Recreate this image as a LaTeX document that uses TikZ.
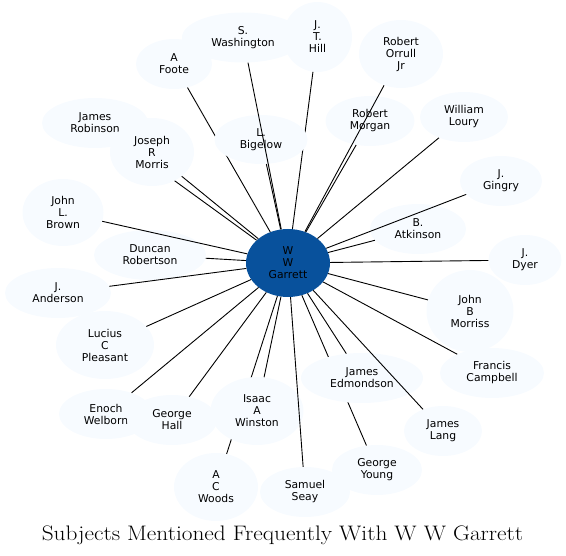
\documentclass[tikz,border=0pt]{standalone}
\usepackage{fontspec}
\usepackage{tikz}
\usetikzlibrary{shapes.geometric}
\newfontfamily\nodefont{DejaVu Sans}
\definecolor{hubfill}{HTML}{08519C}
\definecolor{personfill}{HTML}{F7FBFF}

\begin{document}
\begin{tikzpicture}[
  x=1pt, y=-1pt,
  person/.style = {ellipse, draw=none, fill=personfill, inner sep=0pt, align=center, font=\nodefont\fontsize{10.8}{12}\selectfont},
  hub/.style    = {person, fill=hubfill},
  link/.style   = {line width=0.9pt, color=black},
  caption/.style = {font=\fontsize{21}{25}\selectfont, anchor=base},
]
\useasboundingbox (0,0) rectangle (566,556);
% centre
\node[hub, minimum width=84, minimum height=68] (garrett) at (288,263) {W\\W\\Garrett};
% neighbours, each followed by its edge
\node[person, minimum width=76, minimum height=50] (foote) at (174,64) {A\\Foote};
\draw[link] (garrett) -- (foote);
\node[person, minimum width=69, minimum height=70] (hill) at (317.5,37) {J.\\T.\\Hill};
\draw[link] (garrett) -- (hill);
\node[person, minimum width=93, minimum height=49] (bigelow) at (261,139.5) {L.\\Bigelow};
\draw[link] (garrett) -- (bigelow);
\node[person, minimum width=122, minimum height=50] (washington) at (243,37.5) {S.\\Washington};
\draw[link] (garrett) -- (washington);
\node[person, minimum width=89, minimum height=50] (morgan) at (370,121) {Robert\\Morgan};
\draw[link] (garrett) -- (morgan);
\node[person, minimum width=84, minimum height=68] (orrull) at (401,54) {Robert\\Orrull\\Jr};
\draw[link] (garrett) -- (orrull);
\node[person, minimum width=106, minimum height=50] (robinson) at (95,123) {James\\Robinson};
\draw[link] (garrett) -- (robinson);
\node[person, minimum width=84, minimum height=68] (morris) at (152,152) {Joseph\\R\\Morris};
\draw[link] (garrett) -- (morris);
\node[person, minimum width=90, minimum height=50] (young) at (377,470) {George\\Young};
\draw[link] (garrett) -- (young);
\node[person, minimum width=122, minimum height=50] (edmondson) at (362,378) {James\\Edmondson};
\draw[link] (garrett) -- (edmondson);
\node[person, minimum width=78, minimum height=50] (lang) at (443,431) {James\\Lang};
\draw[link] (garrett) -- (lang);
\node[person, minimum width=84, minimum height=68] (woods) at (216,487) {A\\C\\Woods};
\draw[link] (garrett) -- (woods);
\node[person, minimum width=93, minimum height=68] (winston) at (257,411) {Isaac\\A\\Winston};
\draw[link] (garrett) -- (winston);
\node[person, minimum width=90, minimum height=50] (seay) at (305,492) {Samuel\\Seay};
\draw[link] (garrett) -- (seay);
\node[person, minimum width=96, minimum height=50] (atkinson) at (418,229) {B.\\Atkinson};
\draw[link] (garrett) -- (atkinson);
\node[person, minimum width=82, minimum height=50] (gingry) at (501,181) {J.\\Gingry};
\draw[link] (garrett) -- (gingry);
\node[person, minimum width=112, minimum height=50] (duncan) at (150,255) {Duncan\\Robertson};
\draw[link] (garrett) -- (duncan);
\node[person, minimum width=81, minimum height=67] (brown) at (63,212.5) {John\\L.\\Brown};
\draw[link] (garrett) -- (brown);
\node[person, minimum width=73, minimum height=50] (dyer) at (525,260) {J.\\Dyer};
\draw[link] (garrett) -- (dyer);
\node[person, minimum width=87, minimum height=82] (morriss) at (470,311) {John\\B\\Morriss};
\draw[link] (garrett) -- (morriss);
\node[person, minimum width=104, minimum height=50] (campbell) at (492,373) {Francis\\Campbell};
\draw[link] (garrett) -- (campbell);
\node[person, minimum width=88, minimum height=50] (loury) at (464,117) {William\\Loury};
\draw[link] (garrett) -- (loury);
\node[person, minimum width=106, minimum height=50] (anderson) at (58,293) {J.\\Anderson};
\draw[link] (garrett) -- (anderson);
\node[person, minimum width=98, minimum height=68] (lucius) at (105,345) {Lucius\\C\\Pleasant};
\draw[link] (garrett) -- (lucius);
\node[person, minimum width=94, minimum height=50] (enoch) at (106,414) {Enoch\\Welborn};
\draw[link] (garrett) -- (enoch);
\node[person, minimum width=90, minimum height=50] (hall) at (172,420) {George\\Hall};
\draw[link] (garrett) -- (hall);
% title
\node[caption] (title) at (282.5,541) {\scalebox{1.11}[1]{Subjects Mentioned Frequently With W W Garrett}};
\end{tikzpicture}
\end{document}
